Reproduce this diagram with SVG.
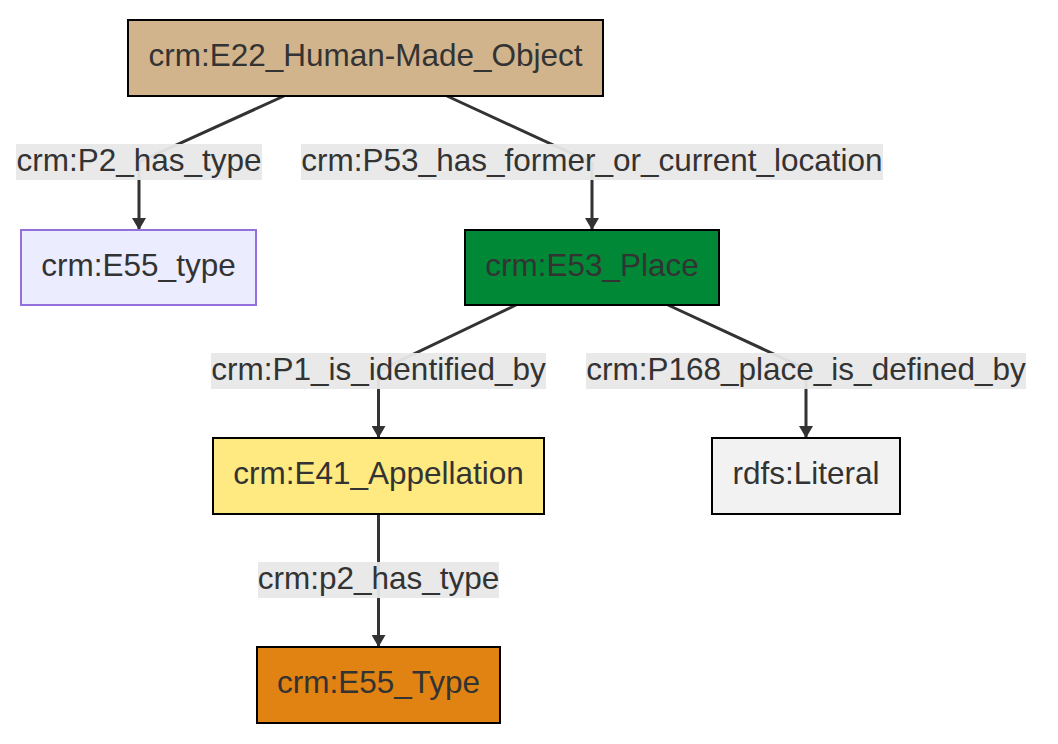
<svg xmlns="http://www.w3.org/2000/svg" width="1058" height="744" viewBox="0 0 1058 744">
<defs>
<style>
.node rect{stroke:#000;stroke-width:2}
.t{font-family:"Liberation Sans",Arial,sans-serif;font-size:31.5px;fill:#333;text-anchor:middle}
.edge{fill:none;stroke:#333;stroke-width:3}
.lbg{fill:#e8e8e8;opacity:0.95}
</style>
<marker id="arr" viewBox="0 0 12 14" refX="12" refY="7" markerWidth="12" markerHeight="14" markerUnits="userSpaceOnUse" orient="auto">
<path d="M0,0 L12,7 L0,14 Z" fill="#333"/>
</marker>
</defs>
<rect width="1058" height="744" fill="#fff"/>
<g id="connectors">
<path class="edge" d="M284,96 L139,162 L139,230" marker-end="url(#arr)"/>
<path class="edge" d="M447,96 L592,163 L592,230" marker-end="url(#arr)"/>
<path class="edge" d="M516,305 L378.5,371 L378.5,438" marker-end="url(#arr)"/>
<path class="edge" d="M668,305 L806,369 L806,438" marker-end="url(#arr)"/>
<path class="edge" d="M378.5,514 L378.5,647" marker-end="url(#arr)"/>
<g id="labels">
<rect class="lbg" x="16" y="144" width="246" height="36"/>
<text class="t" x="139" y="171">crm:P2_has_type</text>
<rect class="lbg" x="301" y="144" width="582" height="36"/>
<text class="t" x="592" y="171">crm:P53_has_former_or_current_location</text>
<rect class="lbg" x="211" y="353" width="335" height="36"/>
<text class="t" x="378.5" y="380">crm:P1_is_identified_by</text>
<rect class="lbg" x="586" y="353" width="440" height="36"/>
<text class="t" x="806" y="380">crm:P168_place_is_defined_by</text>
<rect class="lbg" x="258" y="562" width="241" height="36"/>
<text class="t" x="378.5" y="589">crm:p2_has_type</text>
</g>
</g>
<g id="E22" class="node">
<rect x="128" y="20" width="475" height="76" fill="#D2B48C"/>
<text class="t" x="365.5" y="66">crm:E22_Human-Made_Object</text>
</g>
<g id="E55_type" class="node">
<rect x="21" y="230" width="235" height="75" fill="#ECECFF" style="stroke:#9370DB"/>
<text class="t" x="138.5" y="276">crm:E55_type</text>
</g>
<g id="E53" class="node">
<rect x="465" y="230" width="254" height="75" fill="#008836"/>
<text class="t" x="592" y="276">crm:E53_Place</text>
</g>
<g id="E41" class="node">
<rect x="213" y="438" width="331" height="76" fill="#FEEA80"/>
<text class="t" x="378.5" y="484">crm:E41_Appellation</text>
</g>
<g id="Literal" class="node">
<rect x="712" y="438" width="188" height="76" fill="#F2F2F2"/>
<text class="t" x="806" y="484">rdfs:Literal</text>
</g>
<g id="E55_Type2" class="node">
<rect x="257" y="647" width="243" height="76" fill="#E08312"/>
<text class="t" x="378.5" y="693">crm:E55_Type</text>
</g>
</svg>
